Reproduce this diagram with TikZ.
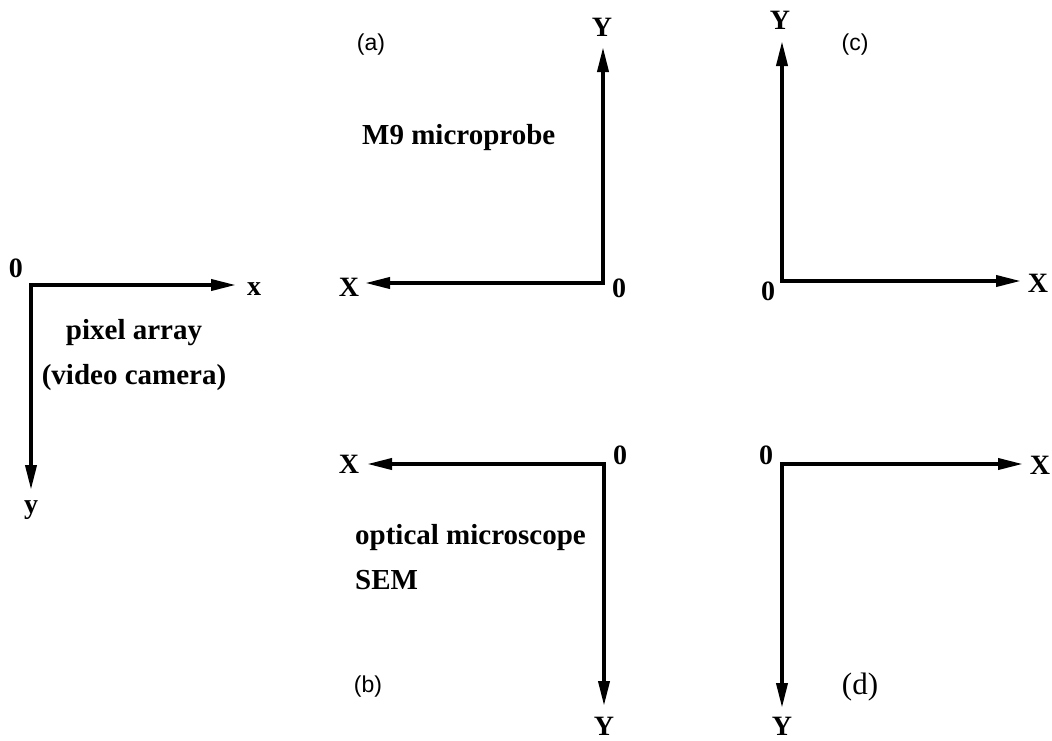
\documentclass[tikz,border=0pt]{standalone}
\usepackage{fontspec}
\setmainfont{Liberation Serif}
\newfontfamily\arialf{Liberation Sans}
\usetikzlibrary{arrows.meta}
\begin{document}
\begin{tikzpicture}[x=1pt,y=-1pt,
  ax/.style={line width=3.8pt,line cap=rect,-{Triangle[length=25pt,width=11pt]}},
  lbl/.style={font=\fontsize{28}{31}\selectfont\bfseries,inner sep=0pt},
  txt/.style={font=\fontsize{29}{32}\selectfont\bfseries,inner sep=0pt},
  tag/.style={font=\arialf\fontsize{23}{26}\selectfont,inner sep=0pt},
  tagd/.style={font=\fontsize{31}{34}\selectfont,inner sep=0pt}]
\useasboundingbox (0,0) rectangle (1052,740);
% left: pixel array
\coordinate (o0) at (31,285);
\coordinate (x0e) at (236,285);
\coordinate (y0e) at (31,490);
\draw[ax] (o0) -- (x0e);
\draw[ax] (o0) -- (y0e);
\node[lbl] (z0) at (16,268) {0};
\node[lbl] (lx0) at (254,289) {x};
\node[lbl] (ly0) at (31,510) {y};
\node[txt] (pa) at (134,333) {pixel array};
\node[txt] (vc) at (134,378) {(video camera)};
% (a)
\coordinate (oa) at (603,283);
\coordinate (xae) at (365,283);
\coordinate (yae) at (603,47);
\draw[ax] (oa) -- (xae);
\draw[ax] (oa) -- (yae);
\node[lbl] (za) at (619,288) {0};
\node[lbl] (lxa) at (349,287) {X};
\node[lbl] (lya) at (602,27) {Y};
\node[tag] (ta) at (371,45) {(a)};
\node[txt,anchor=west] (m9) at (362,138) {M9 microprobe};
% (c)
\coordinate (oc) at (782,281);
\coordinate (xce) at (1021,281);
\coordinate (yce) at (782,41);
\draw[ax] (oc) -- (xce);
\draw[ax] (oc) -- (yce);
\node[lbl] (zc) at (768,291) {0};
\node[lbl] (lxc) at (1038,283) {X};
\node[lbl] (lyc) at (780,20) {Y};
\node[tag] (tc) at (855,45) {(c)};
% (b)
\coordinate (ob) at (604,464);
\coordinate (xbe) at (367,464);
\coordinate (ybe) at (604,706);
\draw[ax] (ob) -- (xbe);
\draw[ax] (ob) -- (ybe);
\node[lbl] (zb) at (620,455) {0};
\node[lbl] (lxb) at (349,464) {X};
\node[lbl] (lyb) at (604,726) {Y};
\node[txt,anchor=west] (om) at (355,538) {optical microscope};
\node[txt,anchor=west] (sem) at (355,580) {SEM};
\node[tag] (tb) at (368,687) {(b)};
% (d)
\coordinate (od) at (782,464);
\coordinate (xde) at (1023,464);
\coordinate (yde) at (782,708);
\draw[ax] (od) -- (xde);
\draw[ax] (od) -- (yde);
\node[lbl] (zd) at (766,455) {0};
\node[lbl] (lxd) at (1040,465) {X};
\node[lbl] (lyd) at (782,726) {Y};
\node[tagd] (td) at (860,687) {(d)};
\end{tikzpicture}
\end{document}
